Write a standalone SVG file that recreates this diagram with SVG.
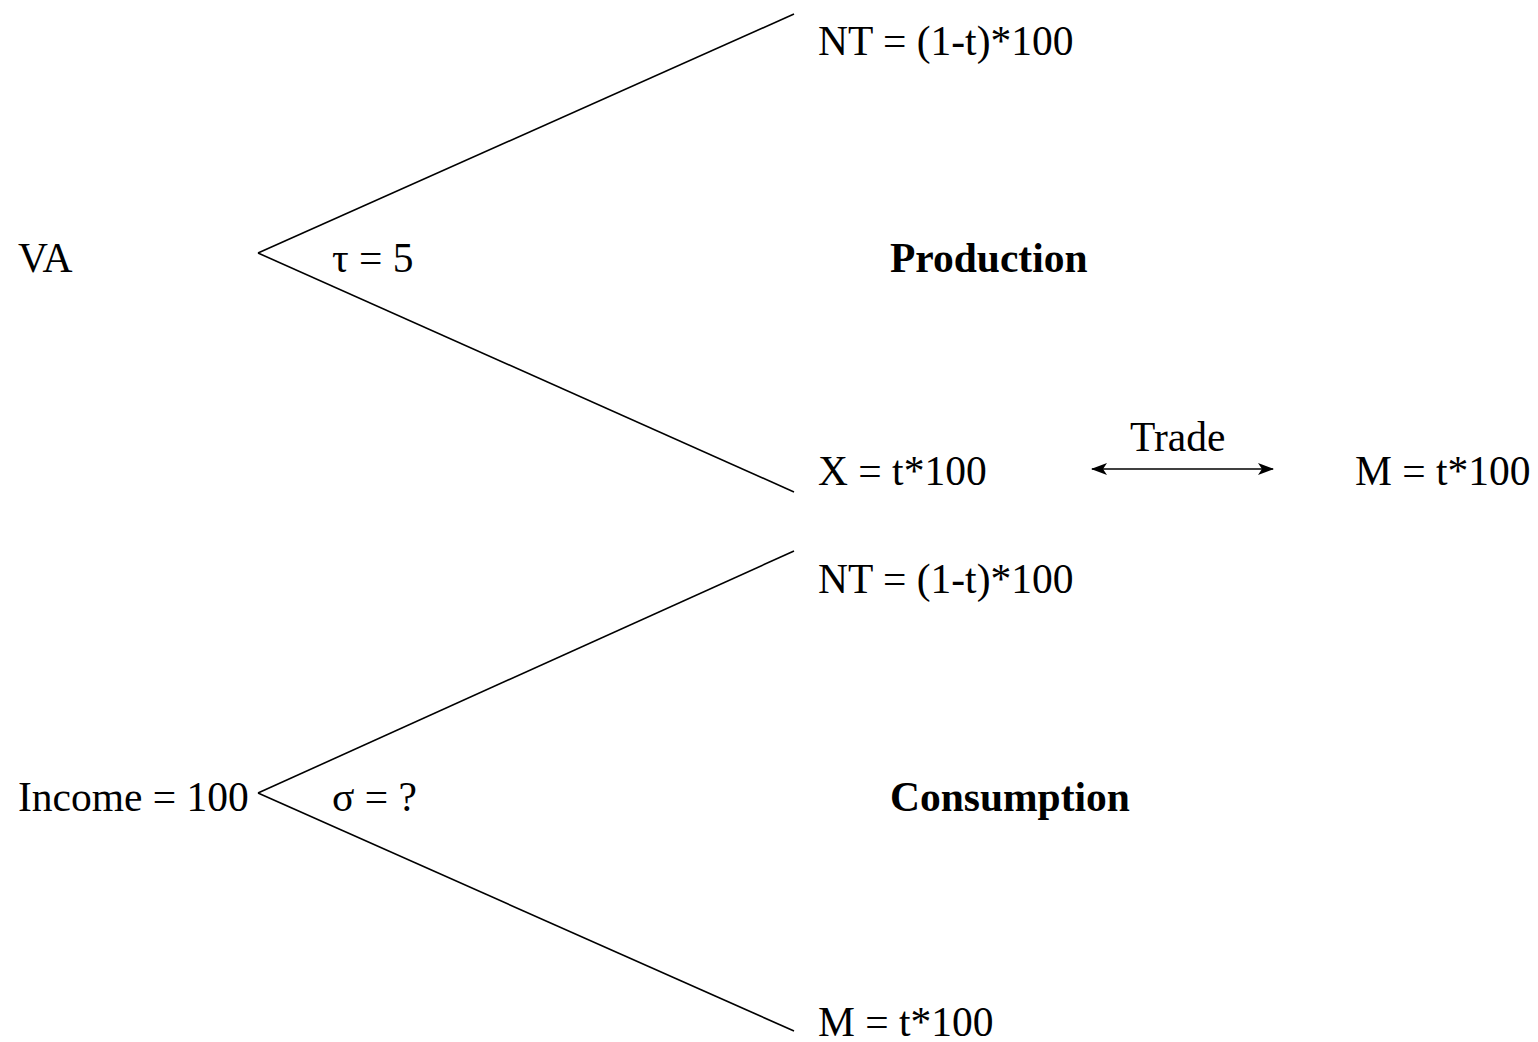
<svg xmlns="http://www.w3.org/2000/svg" width="1538" height="1042" viewBox="0 0 1538 1042">
<style>
text{font-family:"Liberation Serif","Times New Roman",serif;font-size:41.5px;fill:#000}
.b{font-weight:bold}
line{stroke:#000;stroke-width:1.6}
</style>
<defs>
<marker id="ah" viewBox="0 0 16 12" refX="15" refY="6" markerWidth="16" markerHeight="12" markerUnits="userSpaceOnUse" orient="auto-start-reverse">
<path d="M0,0 L16,6 L0,12 L4,6 Z" fill="#000"/>
</marker>
</defs>
<rect width="1538" height="1042" fill="#fff"/>
<g id="connectors">
<line x1="258" y1="253" x2="794" y2="14"/>
<line x1="258" y1="253" x2="794" y2="492"/>
<line x1="258" y1="793" x2="794" y2="551"/>
<line x1="258" y1="793" x2="794" y2="1031"/>
<line x1="1092" y1="469" x2="1273" y2="469" stroke-width="2.2" marker-start="url(#ah)" marker-end="url(#ah)"/>
</g>
<g id="va"><text x="18" y="272">VA</text></g>
<g id="tau"><text x="332" y="272">τ = 5</text></g>
<g id="production"><text class="b" x="890" y="272">Production</text></g>
<g id="nt1"><text x="818" y="55">NT = (1-t)*100</text></g>
<g id="x"><text x="818" y="485">X = t*100</text></g>
<g id="trade"><text x="1130" y="451">Trade</text></g>
<g id="m1"><text x="1355" y="485">M = t*100</text></g>
<g id="nt2"><text x="818" y="593">NT = (1-t)*100</text></g>
<g id="income"><text x="18" y="811">Income = 100</text></g>
<g id="sigma"><text x="332" y="811">σ = ?</text></g>
<g id="consumption"><text class="b" x="890" y="811">Consumption</text></g>
<g id="m2"><text x="818" y="1036">M = t*100</text></g>
</svg>
